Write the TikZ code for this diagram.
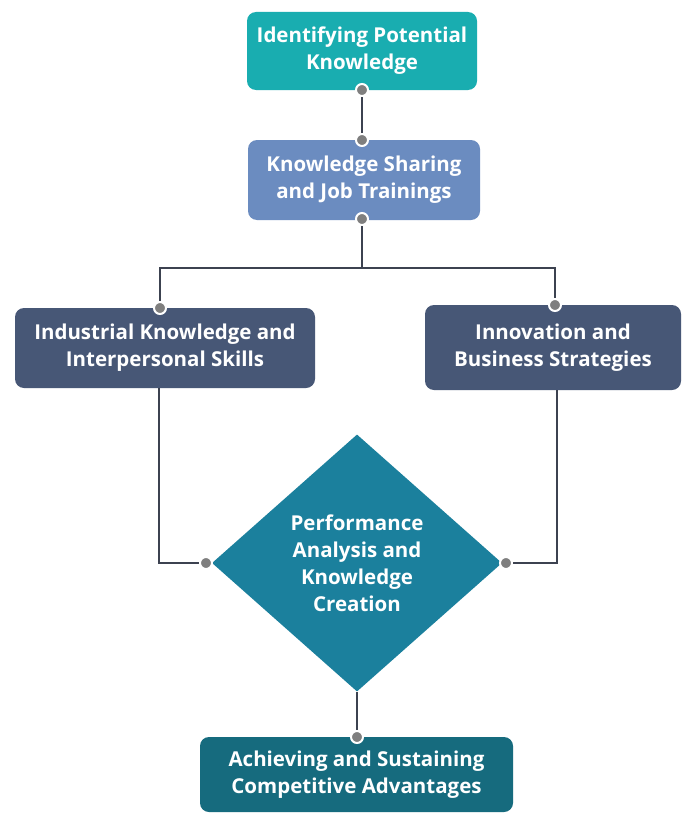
\documentclass[tikz,border=0pt]{standalone}
\usepackage{fontspec}
\setmainfont{Open Sans}
\usetikzlibrary{shapes.geometric}
\definecolor{cteal}{HTML}{19ADB0}
\definecolor{csteel}{HTML}{6B8CC0}
\definecolor{cslate}{HTML}{475776}
\definecolor{cdiam}{HTML}{1B809D}
\definecolor{cdark}{HTML}{166B7E}
\definecolor{cline}{HTML}{3C4250}
\definecolor{cdot}{HTML}{7F7F7F}
\tikzset{
  box/.style={draw=none, rounded corners=9pt, text=white, align=center,
    font=\fontsize{20.5}{27}\selectfont\bfseries, inner sep=0pt},
  conn/.style={draw=cline, line width=1.4pt},
  dotc/.style={fill=cdot, draw=white, line width=2pt},
}
\begin{document}
\begin{tikzpicture}[x=1pt,y=-1pt]
\useasboundingbox[fill=white] (0,0) rectangle (683,816);
% boxes
\node[box, fill=cteal, minimum width=230pt, minimum height=78pt] (b1) at (362,51) {Identifying Potential\\Knowledge};
\node[box, fill=csteel, minimum width=232pt, minimum height=80pt] (b2) at (364,180) {Knowledge Sharing\\and Job Trainings};
\node[box, fill=cslate, minimum width=300pt, minimum height=80pt] (b3) at (165,348) {Industrial Knowledge and\\Interpersonal Skills};
\node[box, fill=cslate, minimum width=256pt, minimum height=85pt] (b4) at (553,347.5) {Innovation and\\Business Strategies};
\node[diamond, fill=cdiam, minimum width=290pt, minimum height=257pt, inner sep=0pt] (d) at (357,563) {};
\node[box, align=center] (dt) at (357,563) {Performance\\Analysis and\\Knowledge\\Creation};
\node[box, fill=cdark, minimum width=313pt, minimum height=75pt] (b5) at (356.5,774.5) {Achieving and Sustaining\\Competitive Advantages};
% connection points
\coordinate (b1s) at (362,90);
\coordinate (b2n) at (362,140);
\coordinate (b2s) at (362,219);
\coordinate (j) at (362,268);
\coordinate (b3n) at (160,308);
\coordinate (b4n) at (555,305);
\coordinate (b3s) at (159,388);
\coordinate (b4s) at (557,390);
\coordinate (dw) at (206,563);
\coordinate (de) at (506,563);
\coordinate (ds) at (357,692);
\coordinate (b5n) at (357,737);
% connectors
\draw[conn] (b1s) -- (b2n);
\draw[conn] (b2s) -- (j);
\draw[conn] (j) -| (b3n);
\draw[conn] (j) -| (b4n);
\draw[conn] (b3s) |- (dw);
\draw[conn] (b4s) |- (de);
\draw[conn] (ds) -- (b5n);
% dots
\foreach \p in {b1s,b2n,b2s,b3n,b4n,dw,de,b5n}
  \draw[dotc] (\p) circle (6pt);
\end{tikzpicture}
\end{document}
